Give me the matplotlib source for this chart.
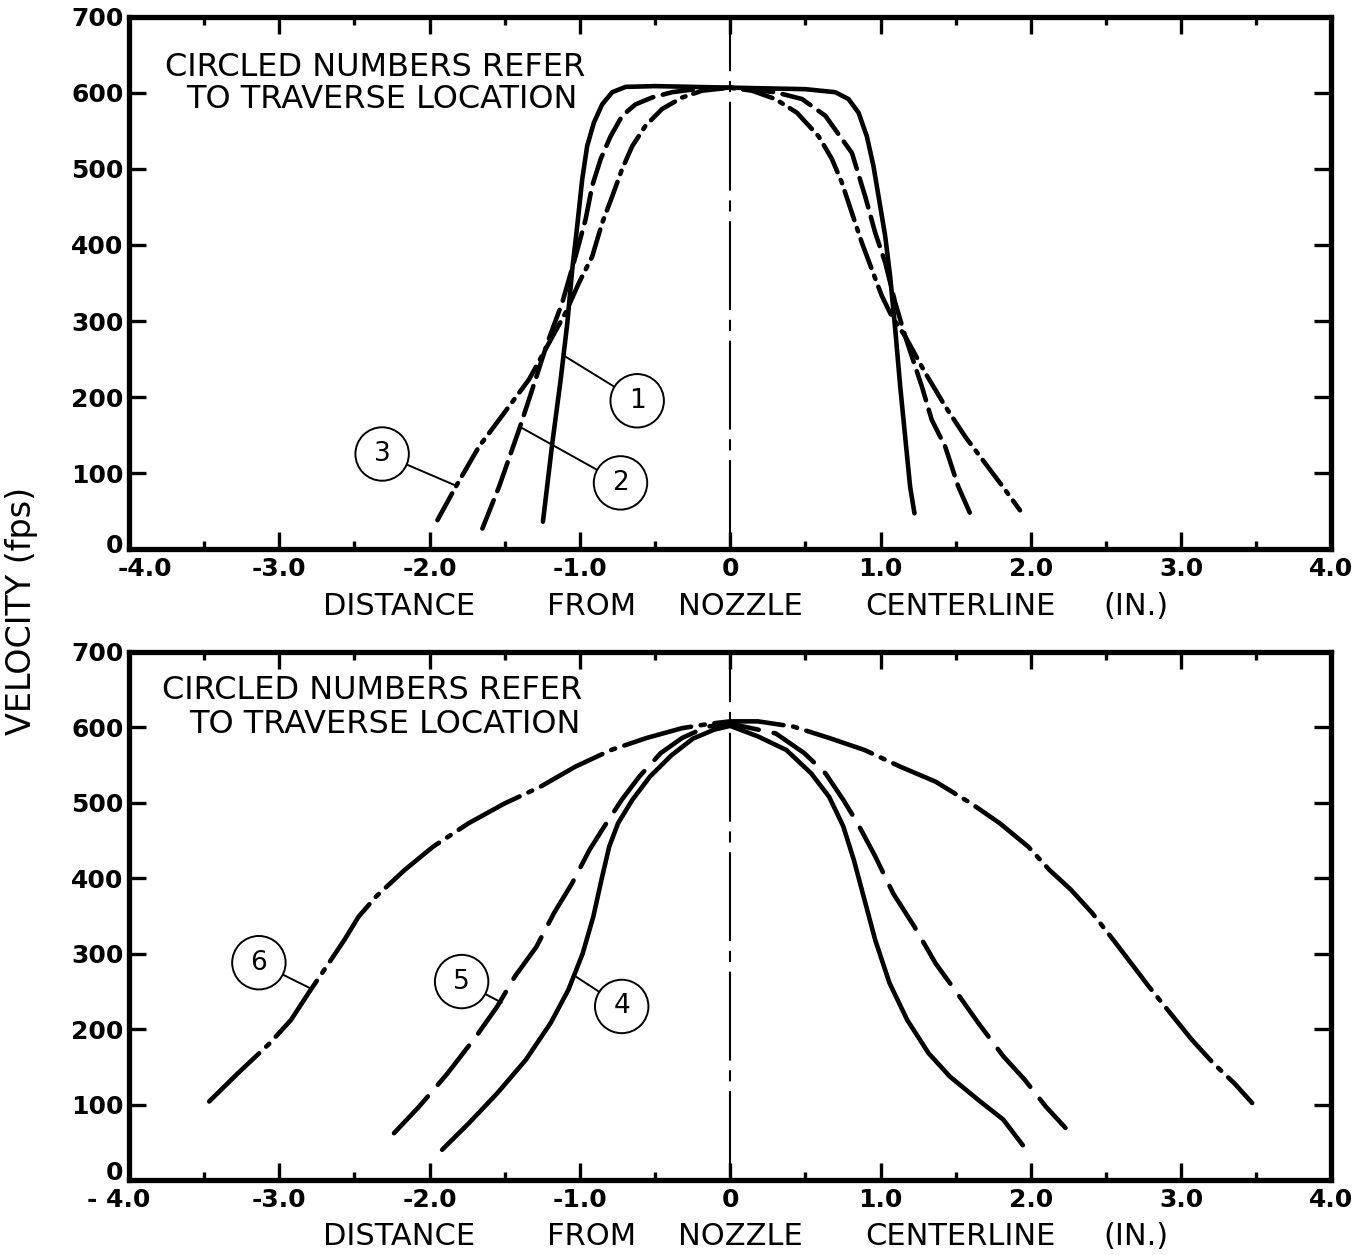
import matplotlib
matplotlib.use("Agg")
import matplotlib.pyplot as plt
import matplotlib.transforms as mtransforms

plt.rcParams['font.family'] = ['DejaVu Sans']
plt.rcParams['lines.scale_dashes'] = False

# ---------------- data ----------------
# Top panel: traverse locations 1, 2, 3
x1 = [-1.246, -1.184, -1.128, -1.084, -1.051, -1.018, -0.985, -0.952, -0.907, -0.852, -0.785,
      -0.696, -0.5, 0.0, 0.5, 0.699, 0.787, 0.854, 0.909, 0.953, 0.987, 1.031, 1.064, 1.098,
      1.131, 1.164, 1.197, 1.226]
v1 = [36, 139, 223, 297, 368, 425, 486, 530, 561, 585, 601,
      608, 609, 607, 605, 601, 592, 574, 543, 504, 464, 412, 359, 289,
      214, 148, 82, 47]

x2 = [-1.649, -1.538, -1.405, -1.317, -1.217, -1.118, -1.029, -0.962, -0.918, -0.862, -0.796,
      -0.719, -0.630, -0.52, -0.387, -0.231, 0.0, 0.30, 0.478, 0.633, 0.81, 0.898, 0.965,
      1.031, 1.098, 1.164, 1.275, 1.341, 1.430, 1.518, 1.596]
v2 = [27, 82, 157, 210, 271, 324, 385, 434, 478, 513, 543,
      570, 585, 594, 601, 605, 607, 601, 592, 570, 521, 464, 416,
      377, 324, 280, 214, 170, 135, 82, 47]

x3 = [-1.948, -1.826, -1.671, -1.538, -1.339, -1.206, -1.095, -1.007, -0.918, -0.852, -0.785,
      -0.719, -0.652, -0.563, -0.453, -0.320, -0.187, 0.0, 0.145, 0.30, 0.444, 0.588, 0.677,
      0.743, 0.81, 0.876, 0.942, 1.009, 1.075, 1.164, 1.297, 1.43, 1.563, 1.696, 1.829, 1.928]
v3 = [38, 82, 135, 170, 223, 271, 311, 350, 385, 429, 464,
      500, 530, 557, 579, 594, 603, 607, 603, 592, 574, 543, 513,
      482, 442, 403, 368, 333, 306, 280, 232, 188, 148, 113, 78, 51]

# Bottom panel: traverse locations 4, 5, 6
x4 = [-1.917, -1.740, -1.550, -1.361, -1.195, -1.077, -0.982, -0.911, -0.852, -0.805, -0.746,
      -0.651, -0.533, -0.391, -0.249, -0.107, 0.0, 0.185, 0.374, 0.539, 0.658, 0.752, 0.823,
      0.894, 0.965, 1.060, 1.178, 1.320, 1.462, 1.651, 1.817, 1.947]
v4 = [40, 75, 115, 159, 208, 252, 300, 349, 402, 442, 473,
      504, 535, 563, 585, 597, 602, 588, 570, 539, 508, 469, 424,
      371, 318, 261, 212, 168, 137, 106, 80, 46]

x5 = [-2.237, -2.071, -1.882, -1.692, -1.550, -1.432, -1.290, -1.172, -1.053, -0.935, -0.840,
      -0.722, -0.604, -0.462, -0.320, -0.154, 0.0, 0.303, 0.492, 0.634, 0.752, 0.847, 0.965,
      1.084, 1.225, 1.367, 1.509, 1.651, 1.817, 1.959, 2.101, 2.231]
v5 = [62, 97, 141, 190, 230, 270, 309, 354, 393, 438, 468,
      504, 535, 566, 586, 601, 605, 592, 566, 539, 504, 473, 429,
      380, 336, 287, 248, 208, 164, 133, 97, 69]

x6 = [-3.467, -3.278, -3.065, -2.923, -2.805, -2.686, -2.568, -2.473, -2.355, -2.166, -1.976,
      -1.740, -1.503, -1.266, -1.030, -0.793, -0.556, -0.320, -0.130, 0.0, 0.185, 0.421, 0.658,
      0.894, 1.131, 1.367, 1.604, 1.793, 1.982, 2.124, 2.266, 2.408, 2.550, 2.669, 2.787, 2.929,
      3.071, 3.213, 3.355, 3.473]
v6 = [104, 141, 181, 212, 248, 283, 318, 349, 376, 411, 442,
      473, 499, 521, 548, 570, 586, 599, 605, 608, 608, 601, 586,
      570, 548, 528, 499, 473, 442, 411, 385, 354, 318, 287, 256, 221,
      186, 155, 128, 102]

x_ticks = [-4, -3, -2, -1, 0, 1, 2, 3, 4]
x_minor_ticks = [-3.5, -2.5, -1.5, -0.5, 0.5, 1.5, 2.5, 3.5]
x_ticklabels_top = ['-4.0', '-3.0', '-2.0', '-1.0', '0', '1.0', '2.0', '3.0', '4.0']
x_ticklabels_bot = ['- 4.0', '-3.0', '-2.0', '-1.0', '0', '1.0', '2.0', '3.0', '4.0']
y_ticks = [0, 100, 200, 300, 400, 500, 600, 700]

label_numbers_top = ['1', '2', '3']
label_numbers_bot = ['4', '5', '6']
note_lines = ['CIRCLED NUMBERS REFER', 'TO TRAVERSE LOCATION']
xlabel_words = ['DISTANCE', 'FROM', 'NOZZLE', 'CENTERLINE', '(IN.)']
ylabel_text = 'VELOCITY (fps)'

# ---------------- styles ----------------
LW = 3.3
dash_top = (0, (22, 7))
dashdot_top = (0, (22, 6, 2.5, 6))
dash_bot = (0, (36, 11))
dashdot_bot = (0, (50, 7, 3, 7))
center_style = (0, (64, 7, 8, 7))

fig = plt.figure(figsize=(13.54, 12.55), dpi=100)
ax_top = fig.add_axes([0.0953, 0.5625, 0.888, 0.424])
ax_bot = fig.add_axes([0.0953, 0.0598, 0.888, 0.4207])

FS_WORD = 22
FS_NOTE = 23


def offset(text_obj, dx_px, dy_px):
    text_obj.set_transform(text_obj.get_transform() +
                           mtransforms.ScaledTranslation(dx_px / 100, dy_px / 100,
                                                         fig.dpi_scale_trans))


def style_axes(ax, xticklabels, xlabel_y):
    ax.set_xlim(-4, 4)
    ax.set_ylim(0, 700)
    for s in ax.spines.values():
        s.set_linewidth(3.8)
    ax.set_xticks(x_ticks)
    ax.set_xticklabels(xticklabels)
    ax.set_xticks(x_minor_ticks, minor=True)
    ax.set_yticks(y_ticks)
    ax.tick_params(axis='x', which='major', direction='in', length=12, width=2.4,
                   top=True, bottom=True, pad=6, labelsize=18)
    ax.tick_params(axis='x', which='minor', direction='in', length=6, width=2.4,
                   top=True, bottom=True)
    ax.tick_params(axis='y', which='major', direction='in', length=12, width=2.4,
                   left=True, right=True, pad=4, labelsize=18)
    for lab in ax.get_xticklabels() + ax.get_yticklabels():
        lab.set_fontweight('bold')
    trans = mtransforms.blended_transform_factory(ax.transData, ax.transAxes)
    word_x = [-2.205, -0.92, 0.07, 1.53, 2.70]
    for w, xx in zip(xlabel_words, word_x):
        ax.text(xx, xlabel_y, w, transform=trans, ha='center', va='center',
                fontsize=FS_WORD, clip_on=False)


style_axes(ax_top, x_ticklabels_top, -0.108)
style_axes(ax_bot, x_ticklabels_bot, -0.108)

# corner labels nudged apart as in the reference
offset(ax_top.xaxis.get_major_ticks()[0].label1, 16, 0)
offset(ax_top.yaxis.get_major_ticks()[0].label1, 0, 6)
offset(ax_bot.xaxis.get_major_ticks()[0].label1, -10, 0)
offset(ax_bot.yaxis.get_major_ticks()[0].label1, 0, 9)

common = dict(color='black', lw=LW, solid_capstyle='round', dash_capstyle='round',
              solid_joinstyle='round')

# centerlines
ax_top.plot([0, 0], [0, 700], color='black', lw=1.5, linestyle=center_style)
ax_bot.plot([0, 0], [0, 700], color='black', lw=1.5, linestyle=center_style)

ax_top.plot(x1, v1, linestyle='-', **common)
ax_top.plot(x2, v2, linestyle=dash_top, **common)
ax_top.plot(x3, v3, linestyle=dashdot_top, **common)

ax_bot.plot(x4, v4, linestyle='-', **common)
ax_bot.plot(x5, v5, linestyle=dash_bot, **common)
ax_bot.plot(x6, v6, linestyle=dashdot_bot, **common)

# notes
ax_top.text(-3.764, 622, note_lines[0], fontsize=FS_NOTE, ha='left', va='baseline')
ax_top.text(-3.62, 580, note_lines[1], fontsize=FS_NOTE, ha='left', va='baseline')
ax_bot.text(-3.778, 637, note_lines[0], fontsize=FS_NOTE, ha='left', va='baseline')
ax_bot.text(-3.60, 593, note_lines[1], fontsize=FS_NOTE, ha='left', va='baseline')


def circled(ax, label, center, target):
    ax.annotate(label, xy=target, xytext=center, fontsize=19, ha='center',
                va='center_baseline',
                bbox=dict(boxstyle='circle,pad=0.52', fc='white', ec='black', lw=1.4),
                arrowprops=dict(arrowstyle='-', lw=1.4, color='black',
                                shrinkA=0, shrinkB=0))


circled(ax_top, label_numbers_top[0], (-0.619, 199), (-1.095, 253))
circled(ax_top, label_numbers_top[1], (-0.730, 91), (-1.383, 159))
circled(ax_top, label_numbers_top[2], (-2.316, 129), (-1.82, 83))

circled(ax_bot, label_numbers_bot[0], (-0.722, 234), (-1.030, 270))
circled(ax_bot, label_numbers_bot[1], (-1.787, 267), (-1.520, 235))
circled(ax_bot, label_numbers_bot[2], (-3.136, 292), (-2.793, 254))

fig.text(22 / 1354, 1 - 611 / 1255, ylabel_text, rotation=90, ha='center', va='center',
         fontsize=24)

fig.savefig('out.png', dpi=100)
